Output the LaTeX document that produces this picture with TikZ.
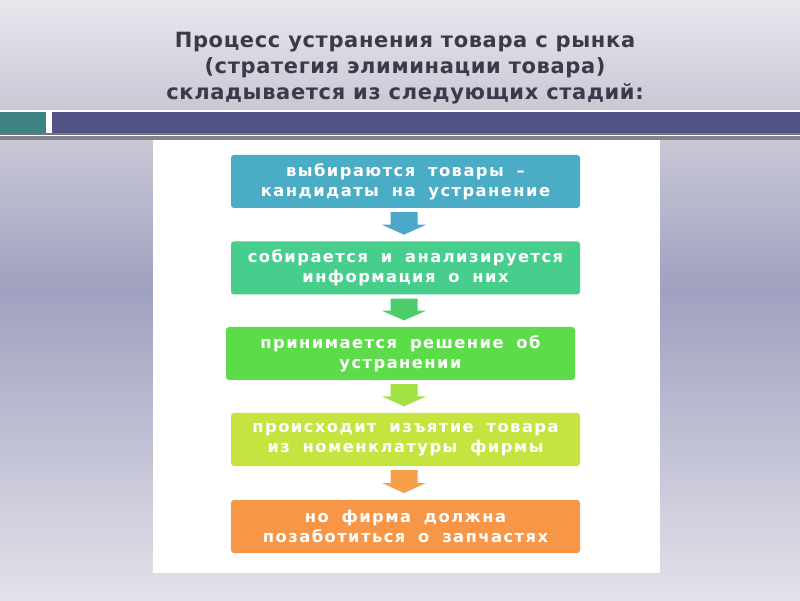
\documentclass[tikz,border=0pt]{standalone}
\usepackage{fontspec}
\setmainfont{DejaVu Sans}
\newfontfamily\titlefont[LetterSpace=3]{DejaVu Sans}
\newfontfamily\boxfont[LetterSpace=9,WordSpace=1.8]{DejaVu Sans}
\definecolor{bgtop}{HTML}{E8E8EE}
\definecolor{bgtitlebot}{HTML}{C8C8D6}
\definecolor{bgmid}{HTML}{A0A0C0}
\definecolor{bgbot}{HTML}{E2E2EA}
\definecolor{teal}{HTML}{3F8282}
\definecolor{barpurple}{HTML}{525287}
\definecolor{linegray}{HTML}{74747E}
\definecolor{titlecol}{HTML}{3A3A48}
\definecolor{cA}{HTML}{4BACC6}
\definecolor{aA}{HTML}{4BA8CA}
\definecolor{cB}{HTML}{48CE8C}
\definecolor{aB}{HTML}{4CCF6A}
\definecolor{cC}{HTML}{5CDC48}
\definecolor{aC}{HTML}{A2E044}
\definecolor{cD}{HTML}{C6E43F}
\definecolor{aD}{HTML}{F7A04B}
\definecolor{cE}{HTML}{F79646}
\tikzset{
  stage/.style={rounded corners=3pt, minimum width=349pt, minimum height=53pt,
    inner sep=0pt, align=center, text=white,
    font=\boxfont\bfseries\fontsize{16.3}{20}\selectfont},
}
\begin{document}
\begin{tikzpicture}[x=1pt,y=1pt]
\useasboundingbox (0,0) rectangle (800,600);
% background
\shade[top color=bgtop, bottom color=bgtitlebot] (0,490) rectangle (800,600);
\shade[top color=bgtitlebot, bottom color=bgmid] (0,310) rectangle (800,460);
\shade[top color=bgmid, bottom color=bgbot] (0,0) rectangle (800,310);
% band
\fill[white] (0,460) rectangle (800,490);
\fill[teal] (0,467) rectangle (46,488);
\fill[barpurple] (52,467) rectangle (800,488);
\fill[linegray] (0,465) rectangle (800,467);
\fill[linegray!90] (0,460) rectangle (800,464);
% panel
\fill[white] (153,27) rectangle (660,460);
% title
\node[text=titlecol, align=center, font=\titlefont\bfseries\fontsize{21}{26}\selectfont]
  (title) at (405,532) {Процесс устранения товара с рынка\\(стратегия элиминации товара)\\складывается из следующих стадий:};
% stages
\node[stage, fill=cA] (s1) at (405.5,418.5) {выбираются товары –\\кандидаты на устранение};
\node[stage, fill=cB] (s2) at (405.5,332) {собирается и анализируется\\информация о них};
\node[stage, fill=cC] (s3) at (400.5,246.5) {принимается решение об\\устранении};
\node[stage, fill=cD] (s4) at (405.5,160.5) {происходит изъятие товара\\из номенклатуры фирмы};
\node[stage, fill=cE] (s5) at (405.5,73.5) {но фирма должна\\позаботиться о запчастях};
% arrows
\coordinate (ax) at (404,0);
\foreach \a/\b/\c in {s1/s2/aA, s2/s3/aB, s3/s4/aC, s4/s5/aD}{
  \path (\a.south -| ax) -- (\b.north -| ax) coordinate[pos=0.12] (t) coordinate[pos=0.5] (m) coordinate[pos=0.8] (h);
  \fill[\c] ([xshift=-13.5pt]t) -- ([xshift=13.5pt]t) -- ([xshift=13.5pt]m) -- ([xshift=22pt]m) -- (h) -- ([xshift=-22pt]m) -- ([xshift=-13.5pt]m) -- cycle;
}
\end{tikzpicture}
\end{document}
